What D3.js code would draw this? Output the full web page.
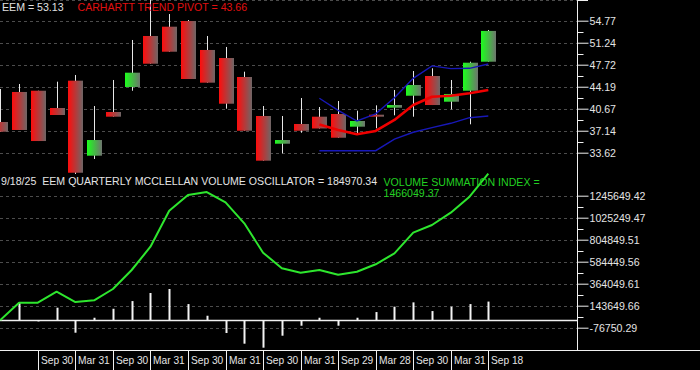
<!DOCTYPE html>
<html><head><meta charset="utf-8">
<script src="https://cdn.jsdelivr.net/npm/d3@7"></script>
<style>
html,body{margin:0;padding:0;background:#000;overflow:hidden;}
svg{display:block;font-family:"Liberation Sans",Arial,sans-serif;}
</style></head><body>
<svg id="c" width="700" height="370"></svg>
<script>
// ---------- DATA ----------
const xLabels   = ["Sep 30","Mar 31","Sep 30","Mar 31","Sep 30","Mar 31","Sep 30","Mar 31","Sep 29","Mar 28","Sep 30","Mar 31","Sep 18"];
const xLabelIdx = [2,4,6,8,10,12,14,16,18,20,22,24,26];

const open  = [38.54,43.35,43.55,40.78,45.16,33.14,40.14,44.15,52.32,53.81,54.72,50.08,48.79,45.75,39.50,35.06,38.22,39.39,39.82,37.79,39.71,40.83,42.75,45.91,41.79,43.55,48.20];
const high  = [43.83,44.63,43.55,45.00,46.07,41.10,45.27,51.68,58.10,55.84,54.88,52.32,50.56,46.60,41.10,39.50,42.38,40.94,41.90,40.35,41.21,43.67,46.71,47.14,45.27,48.20,53.28];
const low   = [36.98,37.26,35.49,39.66,30.21,32.61,39.39,43.55,47.88,49.80,45.43,44.84,40.67,37.14,32.34,33.52,36.82,37.50,36.02,36.73,37.53,39.61,39.39,41.26,40.57,38.17,48.20];
const close = [36.98,37.26,35.49,39.66,30.41,35.65,39.39,46.44,47.88,49.80,45.43,44.84,41.47,37.14,32.34,35.65,37.14,37.50,36.02,38.70,39.39,41.26,44.47,41.26,43.03,48.04,53.13];

const lineStart = 17;
const pivot = [38.14,37.26,36.57,37.10,38.86,41.26,42.59,42.75,43.14,43.66];
const upper = [42.34,40.41,38.70,39.85,42.43,45.54,47.53,47.09,47.14,47.83];
const lower = [33.94,33.94,33.94,33.94,35.81,36.89,37.63,38.33,39.23,39.50];

const oscillator = [0,173700,-14000,123600,-127000,23000,113000,190000,271000,311000,160000,43000,-130000,-237000,-277000,-157000,-57000,23000,-57000,23000,80000,134000,177000,90000,134000,160000,184970.34];
const summation  = [0,173700,173700,283900,180700,197800,311000,501300,734700,1095400,1252700,1282700,1179500,969200,674600,518300,474300,501300,454200,484300,558400,668600,875000,952100,1075400,1235600,1466049.37];

const priceTicks = [33.62,37.14,40.67,44.19,47.72,51.24,54.77];
const volTicks   = [-76750.29,143649.66,364049.61,584449.56,804849.51,1025249.47,1245649.42];

const title1 = "EEM = 53.13";
const title2 = "CARHARTT TREND PIVOT = 43.66";
const title3 = "9/18/25  EEM QUARTERLY MCCLELLAN VOLUME OSCILLATOR = 184970.34";
const title4a = "VOLUME SUMMATION INDEX =";
const title4b = "1466049.37";

// ---------- SCALES ----------
const AX = 577.5;
const x  = d3.scaleLinear().domain([0,26]).range([0.3,488.3]);
const yP = d3.scaleLinear().domain([33.62,54.77]).range([152.7,20.7]);
const yV = d3.scaleLinear().domain([-76750.29,1245649.42]).range([327.7,195.7]);

const svg = d3.select("#c");
svg.append("rect").attr("width",700).attr("height",370).attr("fill","#000");

const defs = svg.append("defs");
function grad(id, c1, c2){
  const g = defs.append("linearGradient").attr("id",id).attr("x1","0").attr("x2","1").attr("y1","0").attr("y2","0");
  g.append("stop").attr("offset","0%").attr("stop-color",c1);
  g.append("stop").attr("offset","100%").attr("stop-color",c2);
}
grad("gRed","#ff0c0c","#6e6666");
grad("gGrn","#1cff1c","#6e746e");
defs.append("clipPath").attr("id","clipTop").append("rect").attr("x",0).attr("y",0).attr("width",AX).attr("height",176);

// ---------- GRID ----------
const grid = svg.append("g").attr("stroke","#4c4c4c").attr("stroke-dasharray","3,3").attr("stroke-width",1);
[...priceTicks.map(v=>yP(v)), 0].forEach(yy=>{
  grid.append("line").attr("x1",0).attr("x2",AX).attr("y1",Math.round(yy)+0.5).attr("y2",Math.round(yy)+0.5);
});
volTicks.forEach(v=>{
  const yy = Math.round(yV(v))+0.5;
  grid.append("line").attr("x1",0).attr("x2",AX).attr("y1",yy).attr("y2",yy);
});

// ---------- CANDLES ----------
const topG = svg.append("g").attr("clip-path","url(#clipTop)");
const idx = d3.range(open.length);
topG.selectAll(".wick").data(idx).join("line")
  .attr("x1",i=>Math.round(x(i))+0.5).attr("x2",i=>Math.round(x(i))+0.5)
  .attr("y1",i=>yP(high[i])).attr("y2",i=>yP(low[i]))
  .attr("stroke","#e8e8e8").attr("stroke-width",1);
topG.selectAll(".body").data(idx).join("rect")
  .attr("x",i=>Math.round(x(i))-7).attr("width",15)
  .attr("y",i=>yP(Math.max(open[i],close[i])))
  .attr("height",i=>Math.max(1.5, yP(Math.min(open[i],close[i]))-yP(Math.max(open[i],close[i]))))
  .attr("fill",i=>close[i]>open[i]?"url(#gGrn)":"url(#gRed)");

const pl = d3.line().x((d,i)=>x(i+lineStart)).y(d=>yP(d));
topG.append("path").attr("d",pl(upper)).attr("fill","none").attr("stroke","#1818b8").attr("stroke-width",1.4);
topG.append("path").attr("d",pl(lower)).attr("fill","none").attr("stroke","#1818b8").attr("stroke-width",1.4);
topG.append("path").attr("d",pl(pivot)).attr("fill","none").attr("stroke","#f00000").attr("stroke-width",2.6).attr("stroke-linejoin","round");

// ---------- VOLUME PANEL ----------
const botG = svg.append("g");
botG.append("line").attr("x1",0).attr("x2",AX).attr("y1",Math.round(yV(0))+0.5).attr("y2",Math.round(yV(0))+0.5)
  .attr("stroke","#f0f0f0").attr("stroke-width",1.5);
botG.selectAll(".bar").data(idx.filter(i=>oscillator[i]!==0)).join("line")
  .attr("x1",i=>Math.round(x(i))+0.5).attr("x2",i=>Math.round(x(i))+0.5)
  .attr("y1",yV(0)).attr("y2",i=>yV(oscillator[i]))
  .attr("stroke","#f4f4f4").attr("stroke-width",2);
const vl = d3.line().x((d,i)=>x(i)).y(d=>yV(d));
botG.append("path").attr("d",vl(summation)).attr("fill","none").attr("stroke","#2ee62e").attr("stroke-width",2).attr("stroke-linejoin","round");

// ---------- AXES ----------
const axisCol = "#f0f0f0";
svg.append("line").attr("x1",AX).attr("x2",AX).attr("y1",0).attr("y2",350).attr("stroke",axisCol).attr("stroke-width",1);
svg.append("line").attr("x1",AX).attr("x2",588).attr("y1",0.5).attr("y2",0.5).attr("stroke",axisCol);

function rightAxis(scale, ticks){
  const g = svg.append("g").attr("transform",`translate(${AX},0)`)
    .call(d3.axisRight(scale).tickValues(ticks).tickSize(11).tickPadding(1).tickFormat(d=>d.toFixed(2)));
  g.select(".domain").remove();
  g.selectAll(".tick line").attr("stroke",axisCol);
  g.selectAll(".tick text").attr("fill","#e4e4e4").attr("font-size","10.6px").attr("font-family","Liberation Sans, Arial, sans-serif");
  const mids = d3.pairs(ticks).map(([a,b])=>(a+b)/2);
  mids.forEach(m=>{
    const yy = Math.round(scale(m))+0.5;
    svg.append("line").attr("x1",AX).attr("x2",AX+6).attr("y1",yy).attr("y2",yy).attr("stroke",axisCol);
  });
}
rightAxis(yP, priceTicks);
rightAxis(yV, volTicks);

// x axis
svg.append("line").attr("x1",0).attr("x2",700).attr("y1",350.5).attr("y2",350.5).attr("stroke",axisCol);
const xg = svg.append("g");
xLabelIdx.forEach((i,k)=>{
  const xx = Math.round(x(i))+0.5;
  xg.append("line").attr("x1",xx).attr("x2",xx).attr("y1",350).attr("y2",370).attr("stroke",axisCol);
  xg.append("text").attr("x",xx+2.5).attr("y",363.5).attr("fill","#e4e4e4").attr("font-size","10.2px").text(xLabels[k]);
});

// ---------- TITLES ----------
svg.append("text").attr("x",2).attr("y",10.5).attr("fill","#e0e0e0").attr("font-size","10.6px").text(title1);
svg.append("text").attr("x",77.5).attr("y",10.5).attr("fill","#e01010").attr("font-size","10.6px").text(title2);
svg.append("text").attr("x",1).attr("y",185.3).attr("fill","#e4e4e4").attr("font-size","10.6px").style("white-space","pre").text(title3);
svg.append("text").attr("x",383.5).attr("y",185.5).attr("fill","#22d022").attr("font-size","10.6px").text(title4a);
svg.append("text").attr("x",383.5).attr("y",197.3).attr("fill","#22d022").attr("font-size","10.6px").text(title4b);
</script>
</body></html>
